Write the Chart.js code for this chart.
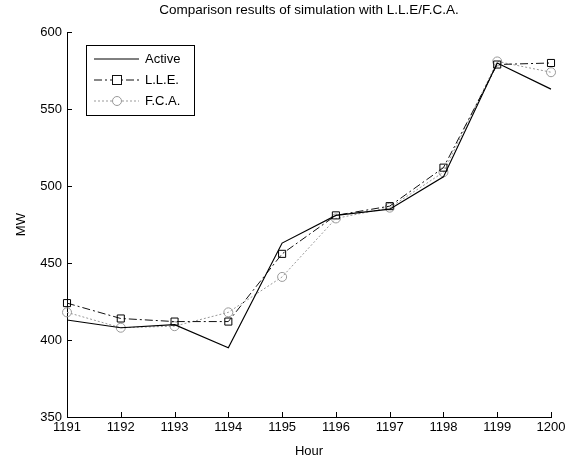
<!DOCTYPE html>
<html>
<head>
<meta charset="utf-8">
<script src="https://cdn.jsdelivr.net/npm/chart.js@4"></script>
<style>
  html, body { margin: 0; padding: 0; background: #fff; }
  #wrap { width: 571px; height: 459px; }
</style>
</head>
<body>
<div id="wrap"><canvas id="chart" width="571" height="459"></canvas></div>
<script>
'use strict';

let hours = ['1191', '1192', '1193', '1194', '1195', '1196', '1197', '1198', '1199', '1200'];
let activeMW = [413, 408, 410, 395, 463, 481, 485, 506, 580, 563];
let lleMW = [424, 414, 412, 412, 456, 481, 487, 512, 579, 580];
let fcaMW = [418, 408, 409, 418, 441, 479, 486, 509, 581, 574];
let yTicks = [350, 400, 450, 500, 550, 600];

let canvasElem = document.getElementById('chart');
let fontName = '"Liberation Sans", Arial, sans-serif';

// MATLAB style ticks pointing into the plot
let innerTicks = {
  id: 'innerTicks',
  afterDatasetsDraw(chart) {
    let ctx = chart.ctx;
    let area = chart.chartArea;
    let xs = chart.scales.x;
    let ys = chart.scales.y;
    ctx.save();
    ctx.strokeStyle = '#000';
    ctx.lineWidth = 1;
    ctx.beginPath();
    for (let i = 0; i < xs.ticks.length; i++) {
      let px = Math.round(xs.getPixelForTick(i)) + 0.5;
      ctx.moveTo(px, area.bottom);
      ctx.lineTo(px, area.bottom - 5);
    }
    for (let i = 0; i < ys.ticks.length; i++) {
      let py = Math.round(ys.getPixelForTick(i)) + 0.5;
      ctx.moveTo(area.left, py);
      ctx.lineTo(area.left + 5, py);
    }
    ctx.stroke();
    ctx.restore();
  }
};

// legend box in the upper left corner of the axes
let boxLegend = {
  id: 'boxLegend',
  afterDraw(chart) {
    let ctx = chart.ctx;
    let left = 86, top = 45, w = 108, h = 70;
    ctx.save();
    ctx.fillStyle = '#fff';
    ctx.fillRect(left, top, w, h);
    ctx.strokeStyle = '#000';
    ctx.lineWidth = 1;
    ctx.strokeRect(left + 0.5, top + 0.5, w, h);
    ctx.font = '13px ' + fontName;
    ctx.textBaseline = 'middle';
    chart.data.datasets.forEach((ds, i) => {
      let y = top + 14 + i * 21;
      ctx.strokeStyle = ds.borderColor;
      ctx.lineWidth = 1;
      ctx.setLineDash(ds.borderDash || []);
      ctx.beginPath();
      ctx.moveTo(left + 8, y);
      ctx.lineTo(left + 53, y);
      ctx.stroke();
      ctx.setLineDash([]);
      if (ds.pointRadius > 0) {
        ctx.fillStyle = '#fff';
        if (ds.pointStyle === 'rect') {
          ctx.fillRect(left + 26, y - 5, 10, 10);
          ctx.strokeRect(left + 26.5, y - 4.5, 9, 9);
        } else {
          ctx.beginPath();
          ctx.arc(left + 31, y, 4.5, 0, Math.PI * 2);
          ctx.fill();
          ctx.stroke();
        }
      }
      ctx.fillStyle = '#000';
      ctx.fillText(ds.label, left + 59, y);
    });
    ctx.restore();
  }
};

let chartObj = {
  type: 'line',
  data: {
    labels: hours,
    datasets: [{
      label: 'Active',
      data: activeMW,
      borderColor: '#000',
      borderWidth: 1.2,
      pointRadius: 0,
      tension: 0
    },
    {
      label: 'L.L.E.',
      data: lleMW,
      borderColor: '#111',
      borderWidth: 1,
      borderDash: [8, 3, 2, 3],
      pointStyle: 'rect',
      pointRadius: 5,
      pointBackgroundColor: 'rgba(255,255,255,0)',
      pointBorderColor: '#000',
      pointBorderWidth: 1,
      tension: 0
    },
    {
      label: 'F.C.A.',
      data: fcaMW,
      borderColor: '#999',
      borderWidth: 1,
      borderDash: [2, 2],
      pointStyle: 'circle',
      pointRadius: 4.5,
      pointBackgroundColor: 'rgba(255,255,255,0)',
      pointBorderColor: '#999',
      pointBorderWidth: 1,
      tension: 0
    }]
  },
  options: {
    responsive: false,
    animation: false,
    layout: { padding: { left: 0, right: 20, top: 0, bottom: 0 } },
    scales: {
      x: {
        offset: false,
        grid: { display: true, drawOnChartArea: false, drawTicks: false },
        border: { color: '#000', width: 1 },
        ticks: { color: '#000', font: { family: fontName, size: 13 }, padding: 3, maxRotation: 0, autoSkip: false },
        title: { display: true, text: 'Hour', color: '#000', font: { family: fontName, size: 13 }, padding: { top: 0, bottom: 0 } },
        afterFit(scale) { scale.height = 42; }
      },
      y: {
        min: 350,
        max: 600,
        afterBuildTicks(scale) { scale.ticks = yTicks.map(v => ({ value: v })); },
        grid: { display: true, drawOnChartArea: false, drawTicks: false },
        border: { color: '#000', width: 1 },
        ticks: { color: '#000', font: { family: fontName, size: 13 }, padding: 5 },
        title: { display: true, text: 'MW', color: '#000', font: { family: fontName, size: 13 }, padding: { top: 14, bottom: 0 } },
        afterFit(scale) { scale.width = 67; }
      }
    },
    plugins: {
      legend: { display: false },
      tooltip: { enabled: false },
      title: {
        display: true,
        fullSize: false,
        text: 'Comparison results of simulation with L.L.E/F.C.A.',
        color: '#000',
        font: { family: fontName, size: 13.5, weight: 'normal' },
        padding: { top: 2, bottom: 14 }
      }
    }
  },
  plugins: [innerTicks, boxLegend]
};

new Chart(canvasElem, chartObj); //eslint-disable-line
</script>
</body>
</html>
